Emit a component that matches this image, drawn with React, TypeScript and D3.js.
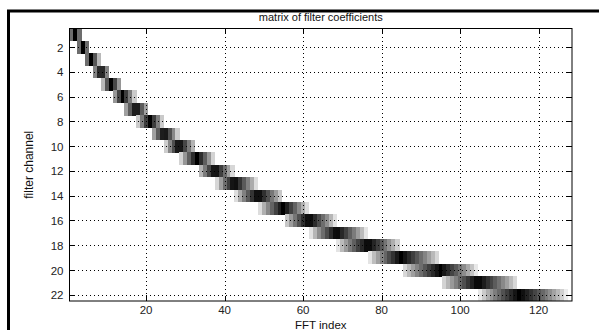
import { useMemo } from "react"
import * as d3 from "d3"

// first FFT bin of each filter channel (1-based)
const channelStart = [
  1, 3, 5, 7, 9, 12, 15, 18, 22, 25, 29, 34, 38, 43, 49, 56, 62, 69, 77, 86, 96, 105,
]

// non-zero coefficients of each channel, starting at channelStart
const channelCoefs = [
  [0.5, 1, 0.5],
  [0.5, 1, 0.5],
  [0.5, 1, 0.6, 0.2],
  [0.4, 0.8, 0.8, 0.4],
  [0.2, 0.6, 1, 0.67, 0.33],
  [0.33, 0.67, 1, 0.71, 0.43, 0.14],
  [0.29, 0.57, 0.86, 0.86, 0.57, 0.29],
  [0.14, 0.43, 0.71, 1, 0.71, 0.43, 0.14],
  [0.29, 0.57, 0.86, 0.88, 0.63, 0.38, 0.13],
  [0.13, 0.38, 0.63, 0.88, 0.89, 0.67, 0.44, 0.22],
  [0.11, 0.33, 0.56, 0.78, 1, 0.78, 0.56, 0.33, 0.11],
  [0.22, 0.44, 0.67, 0.89, 0.9, 0.7, 0.5, 0.3, 0.1],
  [0.1, 0.3, 0.5, 0.7, 0.9, 0.92, 0.75, 0.58, 0.42, 0.25, 0.08],
  [0.08, 0.25, 0.42, 0.58, 0.75, 0.92, 0.92, 0.77, 0.62, 0.46, 0.31, 0.15],
  [0.08, 0.23, 0.38, 0.54, 0.69, 0.85, 1, 0.85, 0.69, 0.54, 0.38, 0.23, 0.08],
  [0.15, 0.31, 0.46, 0.62, 0.77, 0.92, 0.93, 0.79, 0.64, 0.5, 0.36, 0.21, 0.07],
  [0.07, 0.21, 0.36, 0.5, 0.64, 0.79, 0.93, 0.94, 0.81, 0.69, 0.56, 0.44, 0.31, 0.19, 0.06],
  [0.06, 0.19, 0.31, 0.44, 0.56, 0.69, 0.81, 0.94, 0.94, 0.82, 0.71, 0.59, 0.47, 0.35, 0.24, 0.12],
  [0.06, 0.18, 0.29, 0.41, 0.53, 0.65, 0.76, 0.88, 1, 0.9, 0.8, 0.7, 0.6, 0.5, 0.4, 0.3, 0.2, 0.1],
  [0.1, 0.2, 0.3, 0.4, 0.5, 0.6, 0.7, 0.8, 0.9, 1, 0.89, 0.79, 0.68, 0.58, 0.47, 0.37, 0.26, 0.16, 0.05],
  [0.11, 0.21, 0.32, 0.42, 0.53, 0.63, 0.74, 0.84, 0.95, 0.95, 0.86, 0.76, 0.67, 0.57, 0.48, 0.38, 0.29, 0.19, 0.1],
  [0.05, 0.14, 0.24, 0.33, 0.43, 0.52, 0.62, 0.71, 0.81, 0.9, 1, 0.92, 0.84, 0.76, 0.68, 0.6, 0.52, 0.44, 0.36, 0.28, 0.2, 0.12, 0.04],
]

const xTicks = [20, 40, 60, 80, 100, 120]
const yTicks = [2, 4, 6, 8, 10, 12, 14, 16, 18, 20, 22]

const W = 599
const H = 330
const FONT = "'Liberation Sans', Arial, sans-serif"

export default function App() {
  const margin = { left: 69.5, right: 27, top: 28.5, bottom: 29 }

  const x = d3.scaleLinear().domain([0.5, 128.5]).range([margin.left, W - margin.right])
  const y = d3.scaleLinear().domain([0.5, 22.5]).range([margin.top, H - margin.bottom])
  // inverted gray colormap, slightly darkened mid tones like the scanned figure
  const shade = d3.scalePow().exponent(0.8).domain([0, 1]).range([0, 1])
  const color = (v: number) => d3.interpolateRgb("#ffffff", "#000000")(shade(v))

  const cells = useMemo(() => {
    const out: { ch: number; bin: number; v: number }[] = []
    channelCoefs.forEach((coefs, i) => {
      coefs.forEach((v, j) => out.push({ ch: i + 1, bin: channelStart[i] + j, v }))
    })
    return out
  }, [])

  const [x0, x1] = x.range()
  const [y0, y1] = y.range()

  return (
    <svg width={W} height={H} style={{ position: "absolute", left: 0, top: 0, background: "#fff" }}>
      {/* outer figure frame */}
      <rect x={8.5} y={11} width={W} height={H} fill="none" stroke="#000" strokeWidth={3} />

      {/* image cells */}
      <g shapeRendering="crispEdges">
        {cells.map((c, i) => (
          <rect
            key={i}
            x={x(c.bin - 0.5)}
            y={y(c.ch - 0.5)}
            width={x(c.bin + 0.5) - x(c.bin - 0.5) + 0.3}
            height={y(c.ch + 0.5) - y(c.ch - 0.5) + 0.3}
            fill={color(c.v)}
          />
        ))}
      </g>

      {/* dotted grid */}
      <g stroke="#000" strokeWidth={1} strokeDasharray="1,3" shapeRendering="crispEdges">
        {xTicks.map((t) => (
          <line key={"gx" + t} x1={Math.round(x(t)) + 0.5} x2={Math.round(x(t)) + 0.5} y1={y0} y2={y1} />
        ))}
        {yTicks.map((t) => (
          <line key={"gy" + t} x1={x0} x2={x1} y1={Math.round(y(t)) + 0.5} y2={Math.round(y(t)) + 0.5} />
        ))}
      </g>

      {/* ticks, inward on all sides */}
      <g stroke="#000" strokeWidth={1} shapeRendering="crispEdges">
        {xTicks.map((t) => {
          const px = Math.round(x(t)) + 0.5
          return (
            <g key={"tx" + t}>
              <line x1={px} x2={px} y1={y1} y2={y1 - 5} />
              <line x1={px} x2={px} y1={y0} y2={y0 + 5} />
            </g>
          )
        })}
        {yTicks.map((t) => {
          const py = Math.round(y(t)) + 0.5
          return (
            <g key={"ty" + t}>
              <line x1={x0} x2={x0 + 5} y1={py} y2={py} />
              <line x1={x1} x2={x1 - 5} y1={py} y2={py} />
            </g>
          )
        })}
      </g>

      {/* axes box */}
      <rect x={x0} y={y0} width={x1 - x0} height={y1 - y0} fill="none" stroke="#000" strokeWidth={1} />

      {/* tick labels */}
      <g fontFamily={FONT} fontSize={11.5} fill="#222">
        {xTicks.map((t) => (
          <text key={"lx" + t} x={x(t)} y={y1 + 13} textAnchor="middle">
            {t}
          </text>
        ))}
        {yTicks.map((t) => (
          <text key={"ly" + t} x={x0 - 6} y={y(t) + 4.5} textAnchor="end">
            {t}
          </text>
        ))}
      </g>

      {/* titles */}
      <text x={(x0 + x1) / 2} y={21} textAnchor="middle" fontFamily={FONT} fontSize={11} fill="#111">
        matrix of filter coefficients
      </text>
      <text x={(x0 + x1) / 2} y={328.5} textAnchor="middle" fontFamily={FONT} fontSize={11.5} fill="#111">
        FFT index
      </text>
      <text
        transform={`translate(33,${(y0 + y1) / 2}) rotate(-90)`}
        textAnchor="middle"
        fontFamily={FONT}
        fontSize={12}
        fill="#111"
      >
        filter channel
      </text>
    </svg>
  )
}
